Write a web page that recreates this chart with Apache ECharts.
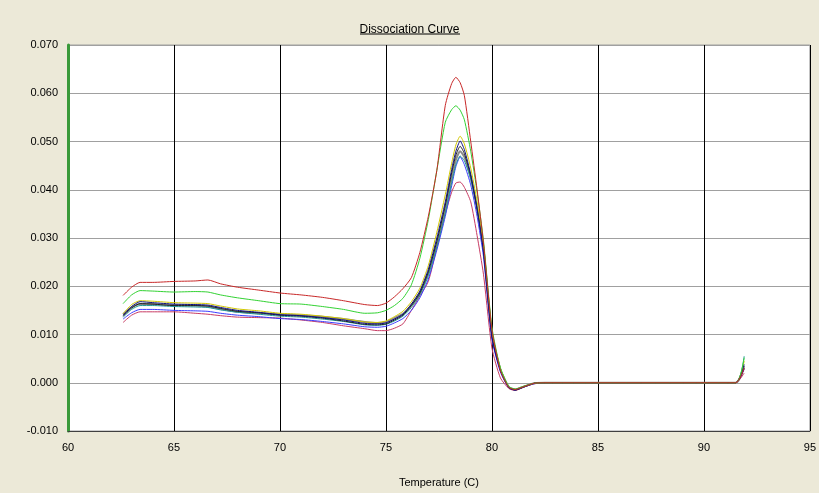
<!DOCTYPE html>
<html>
<head>
<meta charset="utf-8">
<script src="https://cdn.jsdelivr.net/npm/echarts@6/dist/echarts.min.js"></script>
<style>
html,body{margin:0;padding:0;background:#ECE9D8;}
#c{width:819px;height:493px;}
</style>
</head>
<body>
<div id="c"></div>
<script>
// Temperatures (C)
const temps = [62.6,63.0,63.4,64.0,65.0,66.0,66.6,67.2,68.0,69.0,70.0,71.0,72.0,73.0,74.0,74.6,75.0,75.4,75.8,76.2,76.6,77.0,77.4,77.8,78.1,78.3,78.5,78.7,79.0,79.3,79.6,80.0,80.4,80.8,81.1,81.5,82.0,82.5,91.5,91.9];

const redHigh = [0.0181,0.0198,0.0208,0.0208,0.0210,0.0211,0.0213,0.0205,0.0198,0.0192,0.0186,0.0182,0.0177,0.0170,0.0162,0.0160,0.0165,0.0178,0.0195,0.0218,0.0270,0.0345,0.0440,0.0575,0.0620,0.0633,0.0622,0.0595,0.0500,0.0400,0.0290,0.0110,0.0025,-0.0010,-0.0014,-0.0008,-0.0001,0,0,0.0030];
const green = [0.0164,0.0182,0.0191,0.0190,0.0188,0.0189,0.0188,0.0182,0.0176,0.0170,0.0164,0.0163,0.0158,0.0152,0.0144,0.0145,0.0150,0.0160,0.0175,0.0203,0.0258,0.0338,0.0440,0.0540,0.0566,0.0574,0.0565,0.0545,0.0480,0.0395,0.0295,0.0115,0.0030,-0.0008,-0.0013,-0.0007,-0.0001,0,0,0.0052];
const yellow = [0.0143,0.0162,0.0170,0.0169,0.0166,0.0165,0.0164,0.0159,0.0153,0.0149,0.0144,0.0142,0.0138,0.0133,0.0126,0.0125,0.0128,0.0137,0.0148,0.0168,0.0196,0.0243,0.0312,0.0390,0.0455,0.0493,0.0511,0.0495,0.0445,0.0375,0.0285,0.0105,0.0030,-0.0009,-0.0014,-0.0008,-0.0001,0,0,0.0045];
const navy = [0.0140,0.0158,0.0168,0.0166,0.0163,0.0162,0.0161,0.0156,0.0150,0.0146,0.0141,0.0139,0.0135,0.0130,0.0123,0.0122,0.0124,0.0132,0.0142,0.0163,0.0190,0.0235,0.0300,0.0375,0.0442,0.0480,0.0501,0.0483,0.0432,0.0362,0.0272,0.0095,0.0025,-0.0010,-0.0015,-0.0008,-0.0001,0,0,0.0038];
const black = [0.0138,0.0155,0.0164,0.0163,0.0160,0.0160,0.0159,0.0154,0.0148,0.0145,0.0140,0.0138,0.0134,0.0128,0.0121,0.0120,0.0122,0.0130,0.0140,0.0160,0.0186,0.0230,0.0293,0.0368,0.0435,0.0472,0.0490,0.0475,0.0428,0.0360,0.0275,0.0098,0.0026,-0.0010,-0.0015,-0.0009,-0.0001,0,0,0.0030];
const gray = [0.0142,0.0156,0.0163,0.0163,0.0161,0.0160,0.0158,0.0153,0.0147,0.0144,0.0142,0.0140,0.0137,0.0132,0.0126,0.0124,0.0126,0.0134,0.0143,0.0161,0.0186,0.0228,0.0288,0.0360,0.0425,0.0462,0.0480,0.0468,0.0425,0.0360,0.0278,0.0100,0.0028,-0.0009,-0.0014,-0.0008,-0.0001,0,0,0.0035];
const teal = [0.0136,0.0152,0.0160,0.0160,0.0158,0.0157,0.0156,0.0151,0.0146,0.0142,0.0138,0.0136,0.0132,0.0127,0.0120,0.0119,0.0121,0.0128,0.0138,0.0156,0.0182,0.0222,0.0282,0.0352,0.0415,0.0452,0.0470,0.0460,0.0422,0.0362,0.0282,0.0105,0.0030,-0.0009,-0.0014,-0.0008,-0.0001,0,0,0.0055];
const blue = [0.0132,0.0145,0.0152,0.0152,0.0150,0.0149,0.0148,0.0144,0.0140,0.0137,0.0133,0.0131,0.0127,0.0122,0.0116,0.0115,0.0117,0.0124,0.0133,0.0150,0.0176,0.0215,0.0275,0.0345,0.0408,0.0448,0.0468,0.0452,0.0410,0.0345,0.0262,0.0090,0.0022,-0.0011,-0.0015,-0.0009,-0.0002,0,0,0.0028];
const redLow = [0.0125,0.0140,0.0147,0.0147,0.0147,0.0144,0.0142,0.0139,0.0136,0.0135,0.0134,0.0130,0.0125,0.0118,0.0112,0.0108,0.0108,0.0113,0.0122,0.0150,0.0180,0.0210,0.0280,0.0350,0.0395,0.0414,0.0416,0.0405,0.0375,0.0305,0.0225,0.0072,0.0010,-0.0012,-0.0016,-0.0009,-0.0002,0,0,0.0020];

const seriesDefs = [
  {name:'gray', values: gray, color:'#8c8c8c', width:2},
  {name:'redLow', values: redLow, color:'#c83c64', width:1},
  {name:'blue', values: blue, color:'#3c3cff', width:1},
  {name:'teal', values: teal, color:'#1e9696', width:1},
  {name:'black', values: black, color:'#202020', width:1},
  {name:'yellow', values: yellow, color:'#d2c800', width:1},
  {name:'navy', values: navy, color:'#101080', width:1},
  {name:'green', values: green, color:'#32d232', width:1},
  {name:'redHigh', values: redHigh, color:'#c82828', width:1}
];

const FONT = 'Liberation Sans, Arial, sans-serif';
const chart = echarts.init(document.getElementById('c'), null, {renderer:'canvas'});
chart.setOption({
  backgroundColor: '#ECE9D8',
  animation: false,
  title: {
    text: 'Dissociation Curve',
    left: 'center',
    top: 19,
    textStyle: {fontFamily: FONT, fontSize: 12, fontWeight: 'normal', color: '#000'}
  },
  graphic: [{
    type: 'line',
    shape: {x1: 360, y1: 34, x2: 460, y2: 34},
    style: {stroke: '#000', lineWidth: 1}
  }],
  grid: {
    left: 68, right: 6, top: 45, bottom: 53,
    show: true, backgroundColor: '#ffffff', borderColor: '#a0a0a0', borderWidth: 1
  },
  xAxis: {
    type: 'value', min: 60, max: 95, interval: 5,
    name: 'Temperature (C)', nameLocation: 'middle', nameGap: 46,
    nameTextStyle: {fontFamily: FONT, fontSize: 11, color: '#000'},
    axisLine: {show: true, onZero: false, lineStyle: {color: '#404040', width: 1}},
    axisTick: {show: false},
    axisLabel: {fontFamily: FONT, fontSize: 11, color: '#000', margin: 11},
    splitLine: {show: true, lineStyle: {color: '#000', width: 1}}
  },
  yAxis: {
    type: 'value', min: -0.01, max: 0.07, interval: 0.01,
    axisLine: {show: true, lineStyle: {color: '#3a9a3a', width: 3}},
    axisTick: {show: false},
    axisLabel: {fontFamily: FONT, fontSize: 11, color: '#000', margin: 10,
      formatter: v => (Math.abs(v) < 1e-9 ? 0 : v).toFixed(3)},
    splitLine: {show: true, lineStyle: {color: '#a0a0a0', width: 1}}
  },
  series: seriesDefs.map(s => ({
    name: s.name, type: 'line', showSymbol: false, symbol: 'none',
    data: temps.map((t, i) => [t, s.values[i]]),
    lineStyle: {color: s.color, width: s.width},
    smooth: 0.2
  }))
});
</script>
</body>
</html>
